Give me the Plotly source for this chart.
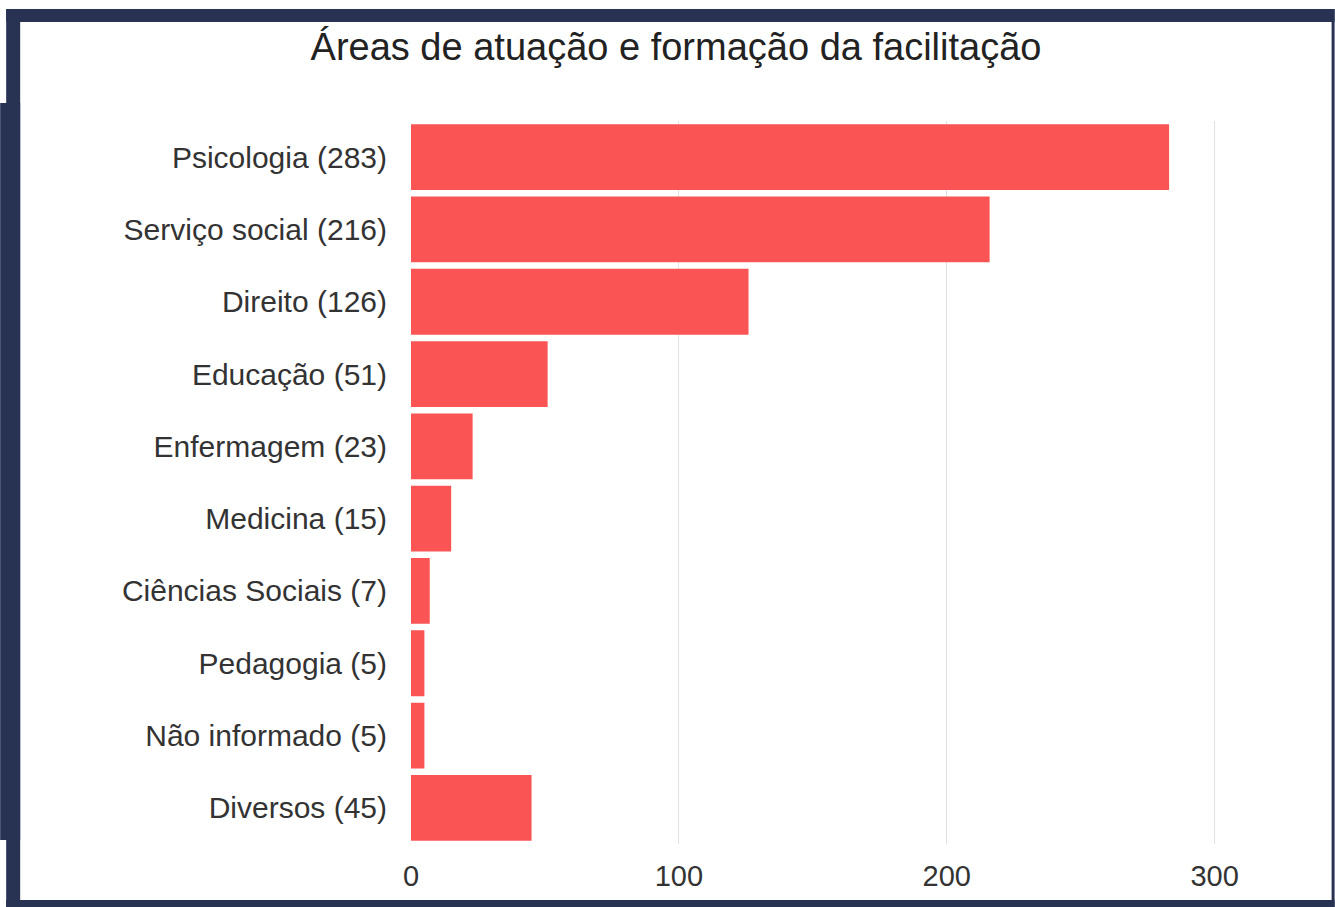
import plotly.graph_objects as go

categories = ["Psicologia (283)", "Serviço social (216)", "Direito (126)", "Educação (51)",
              "Enfermagem (23)", "Medicina (15)", "Ciências Sociais (7)", "Pedagogia (5)",
              "Não informado (5)", "Diversos (45)"]
values = [283, 216, 126, 51, 23, 15, 7, 5, 5, 45]
x_ticks = [0, 100, 200, 300]
title_text = "Áreas de atuação e formação da facilitação"

W, H = 1335, 907
XMAX = 302
L, T, B = 411, 121, 844  # plot area in pixels
R = L + XMAX * 2.68

def px(x):
    return (x - L) / (R - L)

def py(y):
    return (B - y) / (B - T)

navy = "#283353"

fig = go.Figure(go.Bar(
    x=values, y=categories, orientation="h",
    marker=dict(color="#fa5454", line=dict(width=0)),
))

shapes = []
def rect(x0, y0, x1, y1):
    shapes.append(dict(type="rect", xref="paper", yref="paper",
                       x0=px(x0), x1=px(x1), y0=py(y0), y1=py(y1),
                       fillcolor=navy, line=dict(width=0), layer="above"))

rect(6, 9, 1335, 22)      # top band
rect(6, 9, 20, 907)       # left band
rect(0, 103, 20, 840)     # wider left block
rect(6, 900, 1335, 907)   # bottom band
rect(1332, 9, 1335, 907)  # right edge

fig.update_layout(
    width=W, height=H,
    margin=dict(l=L, r=W - R, t=T, b=H - B, pad=0),
    paper_bgcolor="white", plot_bgcolor="white",
    bargap=0.09,
    showlegend=False,
    font=dict(family="Liberation Sans, Arial, sans-serif", color="#222222"),
    title=dict(text=title_text, x=676 / W, xref="container", xanchor="center",
               y=1 - 47 / H, yref="container", yanchor="middle",
               font=dict(size=38, color="#222222")),
    xaxis=dict(range=[0, XMAX], tickvals=x_ticks, showgrid=True, gridcolor="#e2e2e2",
               gridwidth=1, zeroline=False, showline=False,
               tickfont=dict(size=29, color="#333333"), ticks="", ticklabelstandoff=12),
    yaxis=dict(categoryorder="array", categoryarray=categories[::-1], showgrid=False,
               zeroline=False, showline=False, ticks="",
               tickfont=dict(size=30, color="#333333"), ticklabelstandoff=23),
    shapes=shapes,
)

fig.write_html("out.html", config={"displayModeBar": False},
               post_script="document.body.style.margin='0';document.body.style.overflow='hidden';")
